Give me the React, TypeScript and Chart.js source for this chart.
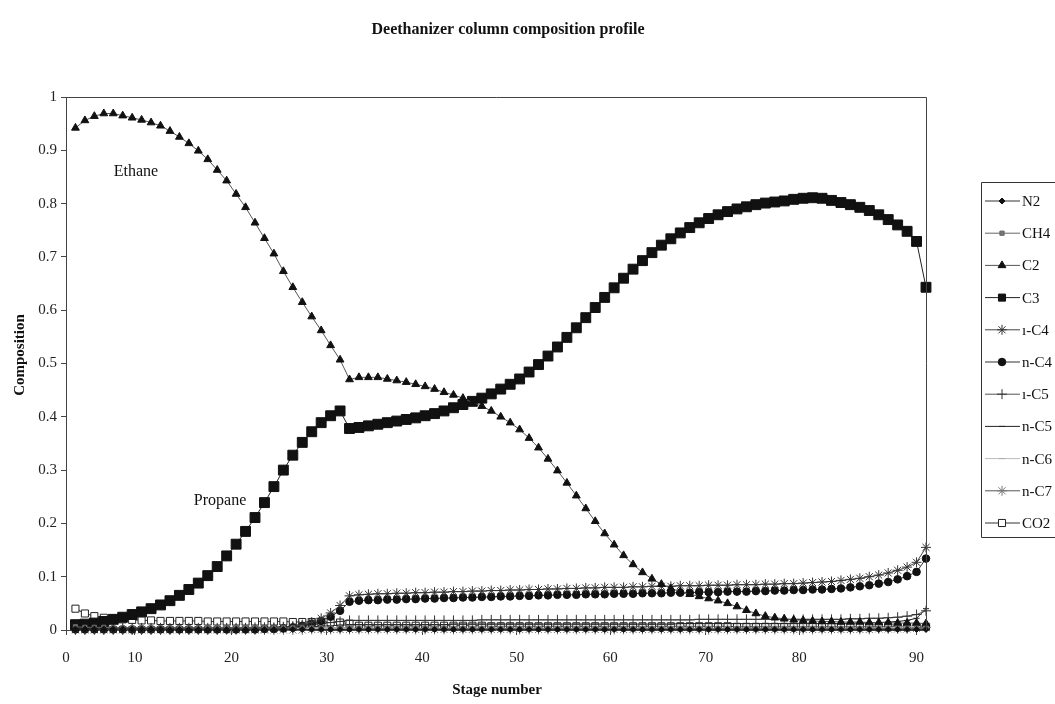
import React, { useEffect, useRef } from "react";
import { Chart, registerables } from "chart.js";

Chart.register(...registerables);

const SERIF = '"Liberation Serif", "DejaVu Serif", serif';

const chartTitle = "Deethanizer column composition profile";
const xTitle = "Stage number";
const yTitle = "Composition";

// Stage numbers (top = 1, reboiler = 91)
const stages = [
  1, 2, 3, 4, 5, 6, 7, 8, 9, 10,
  11, 12, 13, 14, 15, 16, 17, 18, 19, 20,
  21, 22, 23, 24, 25, 26, 27, 28, 29, 30,
  31, 32, 33, 34, 35, 36, 37, 38, 39, 40,
  41, 42, 43, 44, 45, 46, 47, 48, 49, 50,
  51, 52, 53, 54, 55, 56, 57, 58, 59, 60,
  61, 62, 63, 64, 65, 66, 67, 68, 69, 70,
  71, 72, 73, 74, 75, 76, 77, 78, 79, 80,
  81, 82, 83, 84, 85, 86, 87, 88, 89, 90,
  91,
];

const n2 = [
  0.002, 0.002, 0.002, 0.002, 0.002, 0.002, 0.002, 0.002, 0.002, 0.002,
  0.001, 0.001, 0.001, 0.001, 0.001, 0.001, 0.001, 0.001, 0.001, 0.001,
  0.001, 0.001, 0.001, 0.001, 0.001, 0.001, 0.001, 0.001, 0.001, 0.001,
  0.001, 0.001, 0.001, 0.001, 0.001, 0.001, 0.001, 0.001, 0.001, 0.001,
  0.001, 0.001, 0.001, 0.001, 0.001, 0.001, 0.001, 0.001, 0.001, 0.001,
  0.001, 0.001, 0.001, 0.001, 0.001, 0.001, 0.001, 0.001, 0.001, 0.001,
  0.001, 0.001, 0.001, 0.001, 0.001, 0.001, 0.001, 0.001, 0.001, 0.001,
  0.001, 0.001, 0.001, 0.001, 0.001, 0.001, 0.001, 0.001, 0.001, 0.001,
  0.001, 0.001, 0.001, 0.001, 0.001, 0.001, 0.001, 0.001, 0.001, 0.001,
  0.001,
];

const ch4 = [
  0.006, 0.005, 0.005, 0.005, 0.004, 0.004, 0.004, 0.004, 0.004, 0.004,
  0.004, 0.004, 0.004, 0.004, 0.004, 0.004, 0.004, 0.004, 0.004, 0.004,
  0.004, 0.004, 0.004, 0.004, 0.004, 0.004, 0.004, 0.004, 0.004, 0.004,
  0.003, 0.003, 0.003, 0.003, 0.003, 0.003, 0.003, 0.003, 0.003, 0.003,
  0.003, 0.003, 0.003, 0.003, 0.003, 0.003, 0.003, 0.003, 0.003, 0.003,
  0.003, 0.003, 0.003, 0.003, 0.003, 0.003, 0.003, 0.003, 0.003, 0.003,
  0.003, 0.003, 0.003, 0.003, 0.003, 0.003, 0.003, 0.003, 0.003, 0.003,
  0.003, 0.003, 0.003, 0.003, 0.003, 0.003, 0.003, 0.003, 0.003, 0.003,
  0.003, 0.003, 0.003, 0.003, 0.003, 0.003, 0.003, 0.003, 0.003, 0.003,
  0.003,
];

const c2 = [
  0.942, 0.956, 0.964, 0.969, 0.969, 0.965, 0.961, 0.957, 0.952, 0.946,
  0.936, 0.925, 0.913, 0.899, 0.883, 0.863, 0.843, 0.818, 0.793, 0.764,
  0.735, 0.706, 0.673, 0.643, 0.615, 0.588, 0.562, 0.534, 0.507, 0.470,
  0.474, 0.474, 0.474, 0.471, 0.468, 0.465, 0.461, 0.457, 0.452, 0.446,
  0.441, 0.435, 0.427, 0.420, 0.411, 0.400, 0.389, 0.376, 0.360, 0.342,
  0.321, 0.299, 0.276, 0.252, 0.228, 0.204, 0.181, 0.160, 0.140, 0.123,
  0.108, 0.096, 0.086, 0.078, 0.072, 0.067, 0.063, 0.059, 0.055, 0.050,
  0.044, 0.037, 0.031, 0.026, 0.023, 0.021, 0.019, 0.018, 0.017, 0.016,
  0.016, 0.015, 0.015, 0.015, 0.014, 0.014, 0.014, 0.013, 0.013, 0.013,
  0.012,
];

const c3 = [
  0.010, 0.011, 0.013, 0.016, 0.020, 0.024, 0.029, 0.034, 0.040, 0.047,
  0.055, 0.065, 0.076, 0.088, 0.102, 0.119, 0.139, 0.161, 0.185, 0.211,
  0.239, 0.269, 0.300, 0.328, 0.352, 0.372, 0.389, 0.402, 0.411, 0.378,
  0.380, 0.383, 0.386, 0.389, 0.392, 0.395, 0.398, 0.402, 0.406, 0.411,
  0.417, 0.423, 0.429, 0.435, 0.443, 0.452, 0.461, 0.471, 0.484, 0.498,
  0.514, 0.531, 0.549, 0.567, 0.586, 0.605, 0.624, 0.642, 0.660, 0.677,
  0.693, 0.708, 0.722, 0.734, 0.745, 0.755, 0.764, 0.772, 0.779, 0.785,
  0.790, 0.794, 0.798, 0.801, 0.803, 0.805, 0.808, 0.810, 0.811, 0.810,
  0.806, 0.802, 0.798, 0.793, 0.787, 0.779, 0.770, 0.760, 0.748, 0.729,
  0.643,
];

const iC4 = [
  0.001, 0.001, 0.001, 0.001, 0.001, 0.001, 0.001, 0.001, 0.001, 0.001,
  0.001, 0.001, 0.001, 0.001, 0.001, 0.001, 0.002, 0.002, 0.002, 0.002,
  0.002, 0.003, 0.004, 0.006, 0.010, 0.015, 0.022, 0.032, 0.046, 0.064,
  0.066, 0.067, 0.068, 0.068, 0.069, 0.069, 0.070, 0.070, 0.071, 0.071,
  0.072, 0.072, 0.073, 0.073, 0.074, 0.074, 0.075, 0.075, 0.076, 0.076,
  0.077, 0.077, 0.078, 0.078, 0.079, 0.079, 0.080, 0.080, 0.080, 0.081,
  0.081, 0.082, 0.082, 0.082, 0.083, 0.083, 0.083, 0.084, 0.084, 0.084,
  0.085, 0.085, 0.085, 0.086, 0.086, 0.087, 0.087, 0.088, 0.089, 0.090,
  0.091, 0.093, 0.095, 0.097, 0.100, 0.103, 0.107, 0.112, 0.118, 0.127,
  0.155,
];

const nC4 = [
  0.001, 0.001, 0.001, 0.001, 0.001, 0.001, 0.001, 0.001, 0.001, 0.001,
  0.001, 0.001, 0.001, 0.001, 0.001, 0.001, 0.001, 0.001, 0.001, 0.001,
  0.002, 0.002, 0.003, 0.005, 0.008, 0.012, 0.017, 0.025, 0.036, 0.053,
  0.055, 0.056, 0.056, 0.057, 0.057, 0.058, 0.058, 0.059, 0.059, 0.060,
  0.060, 0.061, 0.061, 0.062, 0.062, 0.063, 0.063, 0.064, 0.064, 0.065,
  0.065, 0.066, 0.066, 0.066, 0.067, 0.067, 0.067, 0.068, 0.068, 0.068,
  0.069, 0.069, 0.069, 0.070, 0.070, 0.070, 0.071, 0.071, 0.071, 0.072,
  0.072, 0.072, 0.073, 0.073, 0.074, 0.074, 0.075, 0.075, 0.076, 0.076,
  0.077, 0.078, 0.080, 0.082, 0.084, 0.087, 0.090, 0.095, 0.101, 0.109,
  0.134,
];

const iC5 = [
  0.004, 0.004, 0.004, 0.004, 0.004, 0.004, 0.004, 0.004, 0.004, 0.004,
  0.004, 0.004, 0.004, 0.004, 0.004, 0.004, 0.004, 0.004, 0.004, 0.005,
  0.005, 0.005, 0.006, 0.007, 0.008, 0.010, 0.012, 0.014, 0.016, 0.018,
  0.018, 0.018, 0.018, 0.018, 0.018, 0.018, 0.018, 0.018, 0.018, 0.018,
  0.018, 0.018, 0.018, 0.019, 0.019, 0.019, 0.019, 0.019, 0.019, 0.019,
  0.019, 0.019, 0.019, 0.019, 0.019, 0.019, 0.019, 0.019, 0.019, 0.019,
  0.019, 0.019, 0.019, 0.019, 0.019, 0.019, 0.020, 0.020, 0.020, 0.020,
  0.020, 0.020, 0.020, 0.020, 0.020, 0.020, 0.020, 0.020, 0.020, 0.020,
  0.020, 0.020, 0.021, 0.021, 0.022, 0.022, 0.023, 0.024, 0.026, 0.029,
  0.036,
];

const nC5 = [
  0.002, 0.002, 0.002, 0.002, 0.002, 0.002, 0.002, 0.002, 0.002, 0.002,
  0.002, 0.002, 0.002, 0.002, 0.002, 0.002, 0.002, 0.002, 0.002, 0.002,
  0.002, 0.002, 0.003, 0.004, 0.005, 0.006, 0.007, 0.008, 0.009, 0.010,
  0.010, 0.010, 0.010, 0.010, 0.010, 0.010, 0.010, 0.010, 0.010, 0.010,
  0.011, 0.011, 0.011, 0.011, 0.011, 0.011, 0.011, 0.011, 0.011, 0.011,
  0.011, 0.011, 0.011, 0.011, 0.011, 0.011, 0.011, 0.011, 0.011, 0.011,
  0.011, 0.011, 0.011, 0.011, 0.012, 0.012, 0.012, 0.012, 0.012, 0.012,
  0.012, 0.012, 0.012, 0.012, 0.012, 0.012, 0.012, 0.012, 0.012, 0.012,
  0.012, 0.012, 0.013, 0.013, 0.013, 0.014, 0.015, 0.016, 0.018, 0.022,
  0.040,
];

const nC6 = [
  0.001, 0.001, 0.001, 0.001, 0.001, 0.001, 0.001, 0.001, 0.001, 0.001,
  0.001, 0.001, 0.001, 0.001, 0.001, 0.001, 0.001, 0.001, 0.001, 0.001,
  0.001, 0.001, 0.001, 0.001, 0.002, 0.002, 0.002, 0.002, 0.003, 0.003,
  0.003, 0.003, 0.003, 0.003, 0.003, 0.003, 0.003, 0.003, 0.003, 0.003,
  0.003, 0.003, 0.003, 0.003, 0.003, 0.003, 0.003, 0.003, 0.003, 0.003,
  0.003, 0.003, 0.003, 0.003, 0.003, 0.003, 0.003, 0.003, 0.003, 0.003,
  0.003, 0.003, 0.003, 0.003, 0.003, 0.003, 0.003, 0.003, 0.003, 0.003,
  0.003, 0.003, 0.003, 0.003, 0.003, 0.003, 0.003, 0.003, 0.003, 0.003,
  0.003, 0.003, 0.003, 0.003, 0.003, 0.004, 0.004, 0.005, 0.006, 0.007,
  0.010,
];

const nC7 = [
  0.000, 0.000, 0.000, 0.000, 0.000, 0.000, 0.000, 0.000, 0.000, 0.000,
  0.000, 0.000, 0.000, 0.000, 0.000, 0.000, 0.000, 0.000, 0.000, 0.000,
  0.000, 0.000, 0.000, 0.000, 0.000, 0.001, 0.001, 0.001, 0.001, 0.001,
  0.001, 0.001, 0.001, 0.001, 0.001, 0.001, 0.001, 0.001, 0.001, 0.001,
  0.001, 0.001, 0.001, 0.001, 0.001, 0.001, 0.001, 0.001, 0.001, 0.001,
  0.001, 0.001, 0.001, 0.001, 0.001, 0.001, 0.001, 0.001, 0.001, 0.001,
  0.001, 0.001, 0.001, 0.001, 0.001, 0.001, 0.001, 0.001, 0.001, 0.001,
  0.001, 0.001, 0.001, 0.001, 0.001, 0.001, 0.001, 0.001, 0.001, 0.001,
  0.001, 0.001, 0.001, 0.001, 0.001, 0.002, 0.002, 0.002, 0.002, 0.003,
  0.005,
];

const co2 = [
  0.040, 0.031, 0.026, 0.023, 0.021, 0.020, 0.019, 0.018, 0.018, 0.017,
  0.017, 0.017, 0.017, 0.017, 0.016, 0.016, 0.016, 0.016, 0.016, 0.016,
  0.016, 0.016, 0.016, 0.015, 0.015, 0.015, 0.015, 0.015, 0.014, 0.012,
  0.008, 0.008, 0.008, 0.008, 0.008, 0.008, 0.008, 0.008, 0.008, 0.008,
  0.008, 0.008, 0.008, 0.008, 0.007, 0.007, 0.007, 0.007, 0.007, 0.007,
  0.007, 0.007, 0.007, 0.007, 0.007, 0.007, 0.007, 0.007, 0.007, 0.007,
  0.007, 0.007, 0.007, 0.007, 0.007, 0.007, 0.007, 0.007, 0.007, 0.007,
  0.006, 0.006, 0.006, 0.006, 0.006, 0.006, 0.006, 0.006, 0.006, 0.006,
  0.006, 0.006, 0.006, 0.006, 0.006, 0.006, 0.006, 0.006, 0.006, 0.006,
  0.006,
];

// Stage-axis labels and the stage positions they are printed under
const xTickLabels = ["0", "10", "20", "30", "40", "50", "60", "70", "80", "90"];
const xTickAt = [0, 7.3, 17.5, 27.6, 37.7, 47.7, 57.6, 67.7, 77.6, 90];

interface SeriesDef {
  label: string;
  values: number[];
  point: string;
  radius: number;
  line: string;
  stroke: string;
  fill: string;
}

const series: SeriesDef[] = [
  { label: "N2", values: n2, point: "rectRot", radius: 3, line: "#333", stroke: "#111", fill: "#111" },
  { label: "CH4", values: ch4, point: "rect", radius: 3, line: "#666", stroke: "#666", fill: "#777" },
  { label: "C2", values: c2, point: "triangle", radius: 4.5, line: "#555", stroke: "#111", fill: "#111" },
  { label: "C3", values: c3, point: "rect", radius: 7, line: "#222", stroke: "#111", fill: "#111" },
  { label: "\u0131-C4", values: iC4, point: "star", radius: 5, line: "#444", stroke: "#333", fill: "#333" },
  { label: "n-C4", values: nC4, point: "circle", radius: 3.8, line: "#333", stroke: "#111", fill: "#111" },
  { label: "\u0131-C5", values: iC5, point: "cross", radius: 5, line: "#555", stroke: "#333", fill: "#333" },
  { label: "n-C5", values: nC5, point: "line", radius: 3, line: "#222", stroke: "#222", fill: "#222" },
  { label: "n-C6", values: nC6, point: "line", radius: 3, line: "#bbb", stroke: "#aaa", fill: "#aaa" },
  { label: "n-C7", values: nC7, point: "star", radius: 5, line: "#555", stroke: "#777", fill: "#777" },
  { label: "CO2", values: co2, point: "rect", radius: 5, line: "#333", stroke: "#222", fill: "#fff" },
];

// Small canvas renderer for the legend swatches
function drawMarker(
  ctx: CanvasRenderingContext2D,
  style: string,
  x: number,
  y: number,
  r: number,
  fill: string,
  stroke: string
) {
  ctx.save();
  ctx.fillStyle = fill;
  ctx.strokeStyle = stroke;
  ctx.lineWidth = 1;
  ctx.beginPath();
  if (style === "rect") {
    const s = r * Math.SQRT1_2;
    ctx.rect(x - s, y - s, 2 * s, 2 * s);
    ctx.fill();
    ctx.stroke();
  } else if (style === "rectRot") {
    ctx.moveTo(x, y - r);
    ctx.lineTo(x + r, y);
    ctx.lineTo(x, y + r);
    ctx.lineTo(x - r, y);
    ctx.closePath();
    ctx.fill();
    ctx.stroke();
  } else if (style === "triangle") {
    ctx.moveTo(x, y - r);
    ctx.lineTo(x + r * 0.866, y + r * 0.5);
    ctx.lineTo(x - r * 0.866, y + r * 0.5);
    ctx.closePath();
    ctx.fill();
    ctx.stroke();
  } else if (style === "circle") {
    ctx.arc(x, y, r, 0, Math.PI * 2);
    ctx.fill();
    ctx.stroke();
  } else if (style === "cross") {
    ctx.moveTo(x - r, y);
    ctx.lineTo(x + r, y);
    ctx.moveTo(x, y - r);
    ctx.lineTo(x, y + r);
    ctx.stroke();
  } else if (style === "star") {
    for (let i = 0; i < 4; i++) {
      const a = (i * Math.PI) / 4;
      ctx.moveTo(x - r * Math.cos(a), y - r * Math.sin(a));
      ctx.lineTo(x + r * Math.cos(a), y + r * Math.sin(a));
    }
    ctx.stroke();
  } else if (style === "line") {
    ctx.moveTo(x - r, y);
    ctx.lineTo(x + r, y);
    ctx.stroke();
  }
  ctx.restore();
}

const decorations = {
  id: "decorations",
  afterDraw(chart: any) {
    const { ctx, chartArea: a, scales } = chart;
    ctx.save();

    // frame: top and right edges of the plot box
    ctx.strokeStyle = "#444";
    ctx.lineWidth = 1;
    ctx.beginPath();
    ctx.moveTo(a.left, Math.round(a.top) + 0.5);
    ctx.lineTo(Math.round(a.right) + 0.5, Math.round(a.top) + 0.5);
    ctx.lineTo(Math.round(a.right) + 0.5, a.bottom);
    ctx.stroke();

    ctx.fillStyle = "#111";
    ctx.textAlign = "center";
    ctx.textBaseline = "middle";

    ctx.font = `bold 16px ${SERIF}`;
    ctx.fillText(chartTitle, 508, 30);

    ctx.font = `bold 15px ${SERIF}`;
    ctx.fillText(xTitle, 497, 690);
    ctx.save();
    ctx.translate(20, 355);
    ctx.rotate(-Math.PI / 2);
    ctx.fillText(yTitle, 0, 0);
    ctx.restore();

    // curve names
    ctx.font = `16px ${SERIF}`;
    ctx.fillText("Ethane", scales.x.getPixelForValue(7.4), scales.y.getPixelForValue(0.86));
    ctx.fillText("Propane", scales.x.getPixelForValue(16.3), scales.y.getPixelForValue(0.243));

    // legend box
    const lx = 981;
    const top = 182;
    const bottom = 537;
    ctx.strokeStyle = "#333";
    ctx.beginPath();
    ctx.moveTo(1056, top + 0.5);
    ctx.lineTo(lx + 0.5, top + 0.5);
    ctx.lineTo(lx + 0.5, bottom + 0.5);
    ctx.lineTo(1056, bottom + 0.5);
    ctx.stroke();

    ctx.textAlign = "left";
    ctx.font = `15px ${SERIF}`;
    const step = (523 - 201) / (series.length - 1);
    series.forEach((s, i) => {
      const y = 201 + i * step;
      ctx.strokeStyle = s.line;
      ctx.beginPath();
      ctx.moveTo(985, y);
      ctx.lineTo(1020, y);
      ctx.stroke();
      drawMarker(ctx, s.point, 1002, y, Math.min(s.radius, 5), s.fill, s.stroke);
      ctx.fillStyle = "#111";
      ctx.fillText(s.label, 1022, y + 1);
    });

    ctx.restore();
  },
};

export default function App() {
  const canvasRef = useRef<HTMLCanvasElement | null>(null);

  useEffect(() => {
    const canvas = canvasRef.current;
    if (!canvas) return;

    const datasets = series.map((s) => ({
      label: s.label,
      data: stages.map((x, i) => ({ x, y: s.values[i] })),
      borderColor: s.line,
      borderWidth: 1,
      pointStyle: s.point,
      pointRadius: s.radius,
      pointBackgroundColor: s.fill,
      pointBorderColor: s.stroke,
      pointBorderWidth: 1,
      fill: false,
      tension: 0,
      clip: false as const,
    }));

    const chart = new Chart(canvas, {
      type: "line",
      data: { datasets },
      plugins: [decorations],
      options: {
        animation: false,
        responsive: false,
        devicePixelRatio: 1,
        layout: { padding: { top: 97, right: 129, left: 0, bottom: 0 } },
        plugins: {
          legend: { display: false },
          tooltip: { enabled: false },
          title: { display: false },
        },
        scales: {
          x: {
            type: "linear",
            min: 0,
            max: 91,
            afterBuildTicks: (scale: any) => {
              scale.ticks = xTickAt.map((v) => ({ value: v }));
            },
            afterFit: (scale: any) => {
              scale.height = 74;
            },
            grid: { display: true, drawOnChartArea: false, drawTicks: true, tickLength: 5, color: "#444" },
            border: { display: true, color: "#444" },
            ticks: {
              autoSkip: false,
              maxRotation: 0,
              padding: 14,
              color: "#222",
              font: { family: SERIF, size: 15 },
              callback: (_v: any, i: number) => xTickLabels[i],
            },
          },
          y: {
            type: "linear",
            min: 0,
            max: 1,
            afterFit: (scale: any) => {
              scale.width = 66;
            },
            grid: { display: true, drawOnChartArea: false, drawTicks: true, tickLength: 5, color: "#444" },
            border: { display: true, color: "#444" },
            ticks: {
              stepSize: 0.1,
              padding: 4,
              color: "#222",
              font: { family: SERIF, size: 15 },
              callback: (v: any) => String(Math.round(Number(v) * 10) / 10),
            },
          },
        },
      },
    });

    return () => chart.destroy();
  }, []);

  return (
    <div style={{ position: "fixed", left: 0, top: 0, width: 1055, height: 704, background: "#fff" }}>
      <canvas ref={canvasRef} width={1055} height={704} />
    </div>
  );
}
